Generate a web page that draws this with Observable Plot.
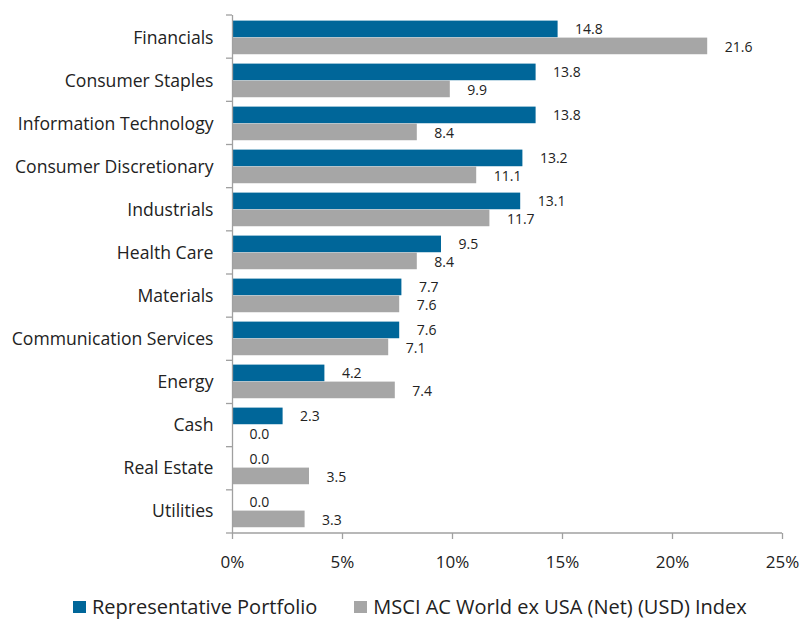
<!DOCTYPE html>
<html>
<head>
<meta charset="utf-8">
<script src="https://cdn.jsdelivr.net/npm/d3@7"></script>
<script src="https://cdn.jsdelivr.net/npm/@observablehq/plot@0.6"></script>
<style>
  html, body { margin: 0; padding: 0; background: #fff; }
  body { width: 803px; font-family: "Open Sans", sans-serif; color: #222; }
  #legend { display: flex; align-items: center; padding-left: 73px; padding-top: 20px; height: 24px; font-size: 20px; line-height: 24px; white-space: nowrap; }
  .item { display: flex; align-items: center; }
  .sw { width: 13px; height: 12px; margin-right: 6px; }
</style>
</head>
<body>
<div id="chart"></div>
<div id="legend"></div>
<script>
const categories = ["Financials","Consumer Staples","Information Technology","Consumer Discretionary","Industrials","Health Care","Materials","Communication Services","Energy","Cash","Real Estate","Utilities"];
const portfolio = [14.8,13.8,13.8,13.2,13.1,9.5,7.7,7.6,4.2,2.3,0.0,0.0];
const benchmark = [21.6,9.9,8.4,11.1,11.7,8.4,7.6,7.1,7.4,0.0,3.5,3.3];
const seriesNames = ["Representative Portfolio","MSCI AC World ex USA (Net) (USD) Index"];
const seriesColors = ["#006699","#a6a6a6"];
const xTicks = [0,5,10,15,20,25];

const data = categories.map((c, i) => ({cat: c, rep: portfolio[i], idx: benchmark[i]}));

const W = 803, H = 575, mT = 15, mB = 42, mL = 232, mR = 21;
const bw = (H - mT - mB) / categories.length;
const axisColor = "#a0a0a0";

// ticks on band boundaries + bottom axis line
const frameLines = (index, scales, values, dims) => {
  const top = dims.marginTop, bottom = dims.height - dims.marginBottom;
  const left = dims.marginLeft, right = dims.width - dims.marginRight;
  const n = categories.length, step = (bottom - top) / n;
  const g = d3.create("svg:g").attr("stroke", axisColor).attr("stroke-width", 1.3);
  for (let i = 0; i <= n; i++) {
    const y = top + i * step;
    g.append("line").attr("x1", left - 6).attr("x2", left).attr("y1", y).attr("y2", y);
  }
  g.append("line").attr("x1", left).attr("x2", right).attr("y1", bottom).attr("y2", bottom);
  return g.node();
};

const chart = Plot.plot({
  width: W, height: H,
  marginTop: mT, marginBottom: mB, marginLeft: mL, marginRight: mR,
  style: {fontFamily: "Open Sans", fontSize: "17px", color: "#222", background: "#fff"},
  x: {domain: [0, 25], ticks: xTicks},
  y: {domain: categories, padding: 0},
  marks: [
    Plot.barX(data, {x: "rep", y: "cat", fill: seriesColors[0], insetTop: 4.6, insetBottom: bw - 21.4}),
    Plot.barX(data, {x: "idx", y: "cat", fill: seriesColors[1], insetTop: 21.6, insetBottom: bw - 38.4}),
    Plot.text(data, {x: "rep", y: "cat", text: d => d.rep.toFixed(1), dx: 17, dy: -8, textAnchor: "start", fontSize: 14, fill: "#222"}),
    Plot.text(data, {x: "idx", y: "cat", text: d => d.idx.toFixed(1), dx: 17, dy: 9.5, textAnchor: "start", fontSize: 14, fill: "#222"}),
    Plot.ruleX([0], {stroke: axisColor, strokeWidth: 1.3}),
    frameLines,
    Plot.axisX({ticks: xTicks, tickSize: 6, tickPadding: 16, stroke: axisColor, strokeWidth: 1.3, tickFormat: d => d + "%", fontSize: 17, fill: "#222", label: null}),
    Plot.axisY({tickSize: 0, tickPadding: 19, fontSize: 17.6, fill: "#222", label: null})
  ]
});
document.getElementById("chart").appendChild(chart);

const legend = document.getElementById("legend");
seriesNames.forEach((name, i) => {
  const item = document.createElement("div");
  item.className = "item";
  if (i > 0) item.style.marginLeft = "37px";
  const sw = document.createElement("span");
  sw.className = "sw";
  sw.style.background = seriesColors[i];
  const t = document.createElement("span");
  t.textContent = name;
  item.appendChild(sw);
  item.appendChild(t);
  legend.appendChild(item);
});
</script>
</body>
</html>
